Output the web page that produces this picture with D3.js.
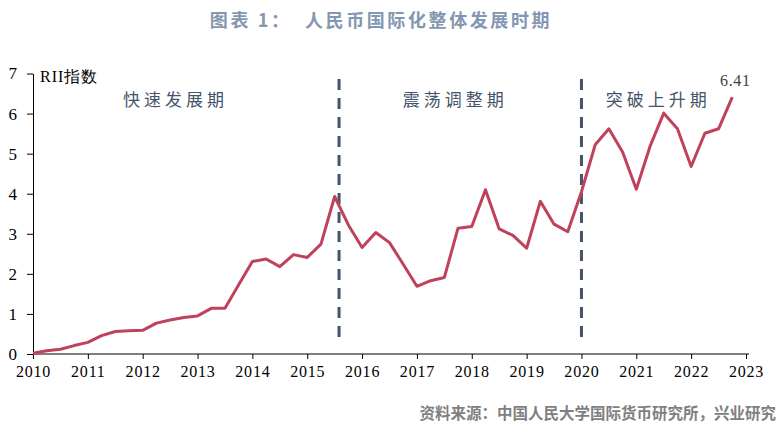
<!DOCTYPE html>
<html><head><meta charset="utf-8">
<script src="https://cdn.jsdelivr.net/npm/d3@7/dist/d3.min.js"></script>
<style>body{margin:0;background:#fff}svg{display:block}</style>
</head><body>
<svg id="c" width="782" height="430"></svg>
<script>
const years = [2010,2011,2012,2013,2014,2015,2016,2017,2018,2019,2020,2021,2022];
const rii = [
  0.02,0.08,0.12,0.21,
  0.29,0.46,0.56,0.58,
  0.59,0.77,0.85,0.91,
  0.95,1.14,1.14,1.73,
  2.31,2.37,2.18,2.48,
  2.41,2.74,3.93,3.22,
  2.66,3.03,2.78,2.24,
  1.69,1.83,1.91,3.14,
  3.18,4.10,3.12,2.96,
  2.64,3.81,3.24,3.05,
  4.05,5.22,5.62,5.04,
  4.11,5.18,6.01,5.62,
  4.68,5.51,5.62,6.41
];
const quarters = ["Q1","Q2","Q3","Q4"];
const xTicks = [2010,2011,2012,2013,2014,2015,2016,2017,2018,2019,2020,2021,2022,2023];
const yTicks = [0,1,2,3,4,5,6,7];
const dividers = [2015.58, 2020.0];
const phases = ["快速发展期","震荡调整期","突破上升期"];
const phaseCenters = [2012.6, 2017.7, 2021.4];
const title = "图表 1：  人民币国际化整体发展时期";
const source = "资料来源：中国人民大学国际货币研究所，兴业研究";

const data = [];
years.forEach((y,i)=>quarters.forEach((q,j)=>data.push({t:y+j*0.25, v:rii[i*4+j]})));

const svg = d3.select("#c");
const x = d3.scaleLinear().domain([2010,2023]).range([33,746]);
const y = d3.scaleLinear().domain([0,7]).range([354,73.5]);
const serif = "'Liberation Serif','Times New Roman',serif";
const cjk = "'Noto Sans CJK SC','Noto Sans',sans-serif";

// title
svg.append("text").attr("x",381).attr("y",27).attr("text-anchor","middle")
  .attr("font-family",cjk).attr("font-weight","bold").attr("font-size",18)
  .attr("letter-spacing","2.6px").attr("fill","#8497b0").style("white-space","pre").text(title);

// axes
const xAxis = svg.append("g").attr("transform","translate(0,354)")
  .call(d3.axisBottom(x).tickValues(xTicks).tickFormat(d3.format("d")).tickSize(5).tickSizeOuter(0));
xAxis.select(".domain").remove();
svg.append("line").attr("x1",33).attr("x2",749).attr("y1",354).attr("y2",354).attr("stroke","#000").attr("stroke-width",1);
xAxis.selectAll("text").attr("font-family",serif).attr("font-size",16).attr("letter-spacing","0.8px").attr("fill","#000").attr("dy","0.95em");
xAxis.selectAll(".tick line").attr("stroke","#000");

const yAxis = svg.append("g").attr("transform","translate(33,0)")
  .call(d3.axisLeft(y).tickValues(yTicks).tickFormat(d3.format("d")).tickSize(6).tickSizeOuter(0).tickPadding(10));
yAxis.select(".domain").attr("stroke","#000");
yAxis.selectAll("text").attr("font-family",serif).attr("font-size",17).attr("fill","#000");
yAxis.selectAll(".tick line").attr("stroke","#000");

svg.append("text").attr("x",40).attr("y",82).attr("font-family",serif).attr("font-size",16)
  .attr("letter-spacing","1px").attr("fill","#000").text("RII指数");

// dividers
svg.selectAll(".div").data(dividers).enter().append("line")
  .attr("x1",d=>x(d)).attr("x2",d=>x(d)).attr("y1",79).attr("y2",345)
  .attr("stroke","#44546a").attr("stroke-width",3).attr("stroke-dasharray","11,8");

// phase labels
svg.selectAll(".ph").data(phases).enter().append("text")
  .attr("x",(d,i)=>x(phaseCenters[i])).attr("y",106).attr("text-anchor","middle")
  .attr("font-family",cjk).attr("font-size",17).attr("letter-spacing","4px")
  .attr("fill","#44546a").text(d=>d);

// line
const line = d3.line().x(d=>x(d.t)).y(d=>y(d.v));
svg.append("path").datum(data).attr("d",line).attr("fill","none")
  .attr("stroke","#c0415a").attr("stroke-width",3).attr("stroke-linejoin","round");

// last label
const last = data[data.length-1];
svg.append("text").attr("x",x(last.t)+3).attr("y",86).attr("text-anchor","middle")
  .attr("font-family",serif).attr("font-size",16).attr("letter-spacing","0.6px").attr("fill","#404040").text(last.v.toFixed(2));

// source
svg.append("text").attr("x",776).attr("y",419).attr("text-anchor","end")
  .attr("font-family",cjk).attr("font-weight","bold").attr("font-size",15.5)
  .attr("fill","#7f7f7f").text(source);
</script>
</body></html>
